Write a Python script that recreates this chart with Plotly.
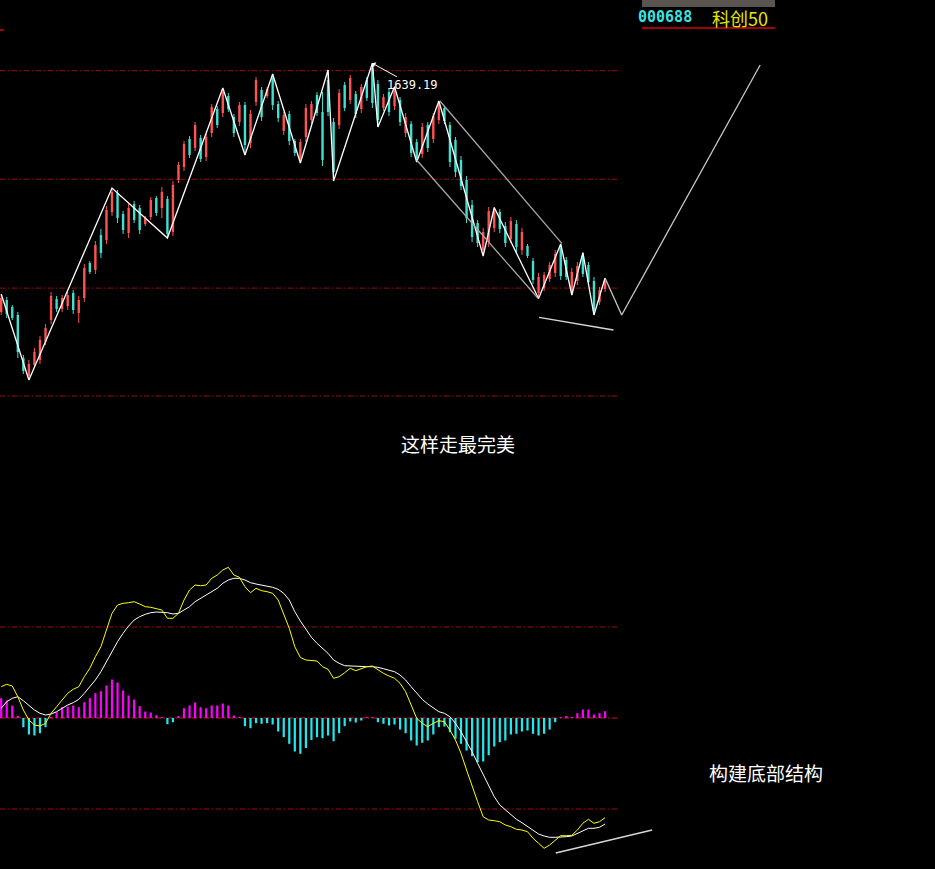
import plotly.graph_objects as go

# ---------------- data ----------------
open_ = [1390.5, 1402.5, 1395.5, 1387.5, 1344.5, 1326.5, 1337.5, 1342.5, 1360.5, 1382.5,
         1403.5, 1393.5, 1396.5, 1409.5, 1389.5, 1404.5, 1439.5, 1432.5, 1467.5, 1462.5,
         1490.5, 1509.5, 1488.5, 1469.5, 1498.5, 1494.5, 1478.5, 1485.5, 1504.5, 1494.5,
         1503.5, 1470.5, 1522.5, 1535.5, 1563.5, 1554.5, 1564.5, 1545.5, 1569.5, 1593.5,
         1589.5, 1606.5, 1585.5, 1580.5, 1597.5, 1559.5, 1600.5, 1612.5, 1606.5, 1624.5,
         1598.5, 1571.5, 1588.5, 1561.5, 1543.5, 1565.5, 1582.5, 1607.5, 1590.5, 1622.5,
         1580.5, 1577.5, 1617.5, 1602.5, 1608.5, 1593.5, 1622.5, 1634.5, 1618.5, 1594.5,
         1610.5, 1596.5, 1602.5, 1569.5, 1578.5, 1560.5, 1548.5, 1577.5, 1563.5, 1582.5,
         1594.5, 1577.5, 1562.5, 1542.5, 1522.5, 1497.5, 1479.5, 1452.5, 1460.5, 1474.5,
         1490.5, 1476.5, 1463.5, 1478.5, 1452.5, 1456.5, 1441.5, 1409.5, 1414.5, 1423.5,
         1429.5, 1454.5, 1442.5, 1411.5, 1421.5, 1446.5, 1437.5, 1421.5, 1400.5, 1413.5]
high = [1408.5, 1405.5, 1397.5, 1390.5, 1347.5, 1342.5, 1354.5, 1366.5, 1378.5, 1410.5,
        1406.5, 1407.5, 1410.5, 1412.5, 1406.5, 1438.5, 1441.5, 1461.5, 1473.5, 1496.5,
        1514.5, 1512.5, 1491.5, 1498.5, 1501.5, 1497.5, 1486.5, 1505.5, 1506.5, 1515.5,
        1506.5, 1521.5, 1540.5, 1561.5, 1566.5, 1580.5, 1567.5, 1568.5, 1598.5, 1596.5,
        1614.5, 1609.5, 1588.5, 1600.5, 1600.5, 1592.5, 1625.5, 1615.5, 1615.5, 1628.5,
        1601.5, 1590.5, 1591.5, 1563.5, 1563.5, 1598.5, 1601.5, 1610.5, 1610.5, 1632.5,
        1584.5, 1613.5, 1620.5, 1627.5, 1611.5, 1618.5, 1625.5, 1639.19, 1622.5, 1608.5,
        1614.5, 1615.8, 1605.5, 1589.5, 1581.5, 1563.5, 1579.5, 1580.5, 1589.5, 1601.5,
        1596.5, 1580.5, 1565.5, 1546.5, 1526.5, 1502.5, 1482.5, 1474.5, 1495.5, 1495.0,
        1493.5, 1480.5, 1485.5, 1482.5, 1474.5, 1458.5, 1444.5, 1429.5, 1430.5, 1440.5,
        1452.5, 1458.5, 1445.5, 1434.5, 1440.5, 1449.8, 1440.5, 1425.5, 1415.5, 1424.5]
low = [1387.5, 1384.5, 1382.5, 1344.5, 1328.5, 1322.5, 1334.5, 1338.5, 1357.5, 1378.5,
       1390.5, 1390.5, 1392.5, 1388.5, 1379.5, 1400.5, 1428.5, 1428.5, 1444.5, 1458.5,
       1486.5, 1479.5, 1468.5, 1464.5, 1479.5, 1468.5, 1476.5, 1482.5, 1486.5, 1484.5,
       1464.5, 1466.5, 1519.5, 1531.5, 1544.5, 1551.5, 1540.5, 1541.5, 1565.5, 1574.5,
       1585.5, 1590.5, 1565.5, 1576.5, 1547.5, 1554.5, 1596.5, 1581.5, 1604.5, 1592.5,
       1580.5, 1567.5, 1557.5, 1546.5, 1539.5, 1560.5, 1578.5, 1586.5, 1536.5, 1586.5,
       1521.5, 1573.5, 1591.5, 1598.5, 1584.5, 1589.5, 1601.5, 1594.5, 1575.5, 1591.5,
       1586.5, 1592.5, 1576.5, 1565.5, 1545.5, 1540.5, 1544.5, 1550.5, 1559.5, 1578.5,
       1578.5, 1535.5, 1525.5, 1512.5, 1479.5, 1460.5, 1455.5, 1446.5, 1455.5, 1470.5,
       1469.5, 1455.5, 1459.5, 1449.5, 1447.5, 1444.5, 1418.5, 1404.0, 1411.5, 1420.5,
       1425.5, 1422.5, 1422.5, 1407.5, 1417.5, 1425.5, 1417.5, 1387.5, 1397.5, 1410.5]
close = [1404.5, 1388.5, 1384.5, 1350.5, 1331.5, 1338.5, 1350.5, 1362.5, 1374.5, 1406.5,
         1393.5, 1404.5, 1407.5, 1392.5, 1402.5, 1434.5, 1430.5, 1457.5, 1449.5, 1492.5,
         1510.5, 1484.5, 1472.5, 1494.5, 1482.5, 1472.5, 1484.5, 1502.5, 1489.5, 1510.5,
         1468.5, 1517.5, 1537.5, 1558.5, 1547.5, 1577.5, 1543.5, 1565.5, 1595.5, 1577.5,
         1610.5, 1593.5, 1569.5, 1597.5, 1557.5, 1588.5, 1622.5, 1585.5, 1613.5, 1597.5,
         1584.5, 1587.5, 1561.5, 1549.5, 1560.5, 1594.5, 1598.5, 1589.5, 1542.5, 1590.5,
         1530.5, 1609.5, 1594.5, 1624.5, 1588.5, 1615.5, 1604.5, 1599.5, 1582.5, 1605.5,
         1590.5, 1612.5, 1580.5, 1585.5, 1549.5, 1544.5, 1575.5, 1554.5, 1586.5, 1598.5,
         1581.5, 1540.5, 1530.5, 1516.5, 1484.5, 1465.5, 1459.5, 1470.5, 1491.5, 1491.5,
         1473.5, 1459.5, 1481.5, 1455.5, 1470.5, 1446.5, 1422.5, 1425.5, 1427.5, 1437.5,
         1448.5, 1426.5, 1425.5, 1430.5, 1436.5, 1428.5, 1420.5, 1391.5, 1412.5, 1421.5]

zigzag_idx = [0, 5, 20, 30, 40, 44, 49, 54, 59, 60, 67, 68, 71, 75, 79, 87, 89, 97, 101, 103, 105, 107, 109]
zigzag_price = [1408.5, 1322.5, 1514.5, 1464.5, 1614.5, 1547.5, 1628.5, 1539.5, 1632.5, 1521.5,
                1639.19, 1575.5, 1615.8, 1540.5, 1601.5, 1446.5, 1495.0, 1404.0, 1458.5, 1407.5,
                1449.8, 1387.5, 1424.5]
channel_upper_idx = [79.2, 101.2]
channel_upper_price = [1601.5, 1459.2]
channel_lower_idx = [75.0, 96.9]
channel_lower_price = [1542.5, 1404.2]
projection_idx = [109, 112, 137]
projection_price = [1424.5, 1387.5, 1637.5]
price_div_idx = [97.1, 110.5]
price_div_price = [1385.2, 1372.5]
peak_idx, peak_price = 67, 1639.19
price_levels = [1631.8, 1523.2, 1414.4, 1306.5]

dif = [31.3, 33.7, 32, 21.3, 8, -2, -7, -8, -5.3, 4.7,
       11.3, 18, 24.7, 28.7, 31.3, 41.3, 49.7, 61.3, 71.3, 88,
       104.7, 113, 114.7, 115.3, 116.3, 114, 111.3, 110.7, 109.7, 108,
       99.7, 99.7, 104.7, 118, 128, 133, 132.3, 133, 139.7, 143,
       148, 150.7, 143, 140.7, 131.3, 125.3, 129.7, 127.3, 126.3, 124.7,
       118, 104.7, 89.7, 71.3, 60.5, 58, 57.7, 57, 51.3, 48.7,
       39.7, 41.3, 45.3, 49.7, 47.3, 49.7, 51.3, 52, 48, 44.7,
       42, 39.7, 34.7, 26.3, 13, -0.3, -5.3, -8.7, -5.3, -2.7,
       -3.7, -12, -22, -35.3, -52, -68.7, -83.7, -98.7, -102, -102.7,
       -103.7, -107, -108.7, -111.3, -112, -113.7, -120.3, -125.3, -130.3, -127,
       -122, -117.7, -117.7, -117.3, -112, -105.3, -101.3, -105.3, -103.7, -99.7]
dea = [9.7, 16.3, 19.7, 21.3, 17.3, 13, 8, 4.7, 3, 4,
       6.3, 9.7, 13, 15.3, 18.7, 24.7, 31.3, 38, 46.3, 56.3,
       66.3, 76.3, 84.7, 92, 98, 101.3, 103.7, 105.3, 106, 106,
       105.3, 104, 104.7, 108, 111.3, 116.3, 119.7, 123, 126.3, 129.7,
       134.7, 138, 139.7, 139.7, 138, 135.3, 134, 133, 132, 130.7,
       128.7, 124.7, 118, 106.3, 97, 89, 80.7, 74.7, 69.7, 64.7,
       58, 54.7, 52.3, 52, 51.3, 51.3, 51.3, 51.3, 50.7, 49.3,
       48, 46.3, 43, 38, 31.3, 24.7, 18.7, 14, 9.7, 6.3,
       4.7, 1.3, -5.3, -13.7, -23.7, -33.7, -45.3, -57, -68.7, -78.7,
       -87, -92, -97, -101.3, -104.7, -108.7, -112.7, -116, -118, -119.3,
       -119.3, -119.3, -118.7, -118, -115.3, -112.7, -110.3, -110.3, -109.3, -106]
macd_hist = [19.8, 17.5, 12.5, 1.8, -9.2, -16.5, -17.5, -15.2, -9.2, 0.8,
             5.8, 10.8, 11.5, 12.5, 10.8, 15.8, 19.8, 24.8, 26.8, 32.5,
             38.5, 35.5, 27.5, 22.5, 18.5, 11.8, 6.5, 5.5, 2.8, 0.3,
             -6.2, -4.2, 1.5, 9.8, 12.5, 15.5, 10.8, 9.8, 12.5, 12.5,
             14.5, 12.5, 2.5, 0.3, -8.2, -10.2, -5.2, -5.8, -5.2, -6.5,
             -13.5, -19.2, -25.8, -33.5, -35.8, -30, -22, -19.2, -20.2, -17.5,
             -23.2, -15.2, -8.2, -3.5, -4.5, -2.5, 0.5, 0.8, -4.2, -5.8,
             -7.5, -6.5, -11.5, -15.2, -22.5, -27.5, -24.8, -22.5, -16.5, -9.2,
             -8.5, -14.2, -20.8, -25.8, -32.5, -38.2, -44.2, -43.5, -37.2, -28.5,
             -24.2, -22.5, -16.5, -15.8, -13.5, -12.5, -15.8, -17.5, -15.8, -11.5,
             -4.2, 0.3, 1.8, 0.8, 4.8, 8.5, 8.5, 3.5, 4.8, 6.8]
macd_div_idx = [100.1, 117.5]
macd_div_val = [-135, -112]
macd_levels = [91, -91]

label_peak = "1639.19"
label_path = "这样走最完美"
label_bottom = "构建底部结构"
ticker_code = "000688"
ticker_name = "科创50"

# ---------------- styling ----------------
W, H = 935, 869
RED = "#ff5252"
TEAL = "#40e0d0"
GRID = "#9a0c0c"
DASH = "6px,2px,2px,2px"
N = len(open_)
xs = list(range(N))


def px(x):
    return x / W


def py(y):
    return 1 - y / H


def segments(mask, a, b):
    sx, sy = [], []
    for i in range(N):
        if mask[i]:
            sx += [xs[i], xs[i], None]
            sy += [a[i], b[i], None]
    return sx, sy


up = [c >= o for o, c in zip(open_, close)]
down = [not u for u in up]

fig = go.Figure()

# candles: wicks then bodies
for mask, col in ((up, RED), (down, TEAL)):
    wx, wy = segments(mask, low, high)
    fig.add_trace(go.Scatter(x=wx, y=wy, mode="lines", line=dict(color=col, width=1),
                             hoverinfo="skip", yaxis="y"))
    bx, by = segments(mask, open_, close)
    fig.add_trace(go.Scatter(x=bx, y=by, mode="lines", line=dict(color=col, width=2.4),
                             hoverinfo="skip", yaxis="y"))

# zigzag and trend lines
fig.add_trace(go.Scatter(x=zigzag_idx, y=zigzag_price, mode="lines",
                         line=dict(color="#ffffff", width=1.3), yaxis="y"))
fig.add_trace(go.Scatter(x=channel_upper_idx, y=channel_upper_price, mode="lines",
                         line=dict(color="#a8a8a8", width=1.3), yaxis="y"))
fig.add_trace(go.Scatter(x=channel_lower_idx, y=channel_lower_price, mode="lines",
                         line=dict(color="#a8a8a8", width=1.3), yaxis="y"))
fig.add_trace(go.Scatter(x=projection_idx, y=projection_price, mode="lines",
                         line=dict(color="#c8c8c8", width=1.3), yaxis="y"))
fig.add_trace(go.Scatter(x=price_div_idx, y=price_div_price, mode="lines",
                         line=dict(color="#d8d8d8", width=1.3), yaxis="y"))

# MACD
fig.add_trace(go.Bar(x=xs, y=macd_hist, width=0.4, yaxis="y2",
                     marker=dict(color=["#ff00ff" if v >= 0 else "#1ee8f0" for v in macd_hist],
                                 line=dict(width=0))))
fig.add_trace(go.Scatter(x=xs, y=dea, mode="lines", line=dict(color="#ffffff", width=1), yaxis="y2"))
fig.add_trace(go.Scatter(x=xs, y=dif, mode="lines", line=dict(color="#ffff00", width=1), yaxis="y2"))
fig.add_trace(go.Scatter(x=macd_div_idx, y=macd_div_val, mode="lines",
                         line=dict(color="#d8d8d8", width=1.3), yaxis="y2"))

# dashed reference lines
x_end = 111.6
for lvl in price_levels:
    fig.add_shape(type="line", xref="x", yref="y", x0=-0.3, x1=x_end, y0=lvl, y1=lvl,
                  line=dict(color=GRID, width=1, dash=DASH), layer="below")
for lvl in macd_levels:
    fig.add_shape(type="line", xref="x", yref="y2", x0=-0.3, x1=x_end, y0=lvl, y1=lvl,
                  line=dict(color=GRID, width=1, dash=DASH), layer="below")
fig.add_shape(type="line", xref="x", yref="y2", x0=-0.3, x1=x_end, y0=0, y1=0,
              line=dict(color="#d01010", width=1, dash=DASH), layer="below")

# top-right quote header
fig.add_shape(type="rect", xref="paper", yref="paper", x0=px(642), x1=px(775), y0=py(7), y1=py(0),
              fillcolor="#5a5550", line=dict(width=0))
fig.add_shape(type="line", xref="paper", yref="paper", x0=px(642), x1=px(775), y0=py(28), y1=py(28),
              line=dict(color="#e00000", width=1.5))
fig.add_shape(type="line", xref="paper", yref="paper", x0=px(0), x1=px(4), y0=py(30), y1=py(30),
              line=dict(color="#e00000", width=1.5))

annotations = [
    dict(x=peak_idx, y=peak_price, xref="x", yref="y", text=label_peak, showarrow=True,
         ax=40, ay=22, arrowcolor="#ffffff", arrowwidth=1, arrowhead=1, arrowsize=1, standoff=0,
         font=dict(family="DejaVu Sans Mono", size=12, color="#ffffff")),
    dict(x=px(458), y=py(443), xref="paper", yref="paper", text=label_path, showarrow=False,
         font=dict(family="Noto Sans CJK SC", size=19, color="#ffffff"), xanchor="center", yanchor="middle"),
    dict(x=px(765.5), y=py(772), xref="paper", yref="paper", text=label_bottom, showarrow=False,
         font=dict(family="Noto Sans CJK SC", size=19, color="#ffffff"), xanchor="center", yanchor="middle"),
    dict(x=px(636), y=py(17), xref="paper", yref="paper", text="<b>" + ticker_code + "</b>", showarrow=False,
         font=dict(family="DejaVu Sans Mono", size=15, color="#40e0e0"), xanchor="left", yanchor="middle"),
    dict(x=px(740), y=py(18), xref="paper", yref="paper", text=ticker_name, showarrow=False,
         font=dict(family="Noto Sans CJK SC", size=18, color="#e6e600"), xanchor="center", yanchor="middle"),
]

fig.update_layout(
    width=W, height=H, margin=dict(l=0, r=0, t=0, b=0),
    paper_bgcolor="#000000", plot_bgcolor="#000000",
    showlegend=False, barmode="overlay",
    xaxis=dict(range=[-0.217, 168.56], visible=False, fixedrange=True),
    yaxis=dict(range=[833.5, 1702.5], visible=False, fixedrange=True),
    yaxis2=dict(range=[-151, 718], overlaying="y", visible=False, fixedrange=True),
    annotations=annotations,
)

fig.write_html(
    "out.html",
    config={"displayModeBar": False},
    post_script="document.body.style.margin='0';document.body.style.background='#000';"
                "document.body.style.overflow='hidden';",
)
